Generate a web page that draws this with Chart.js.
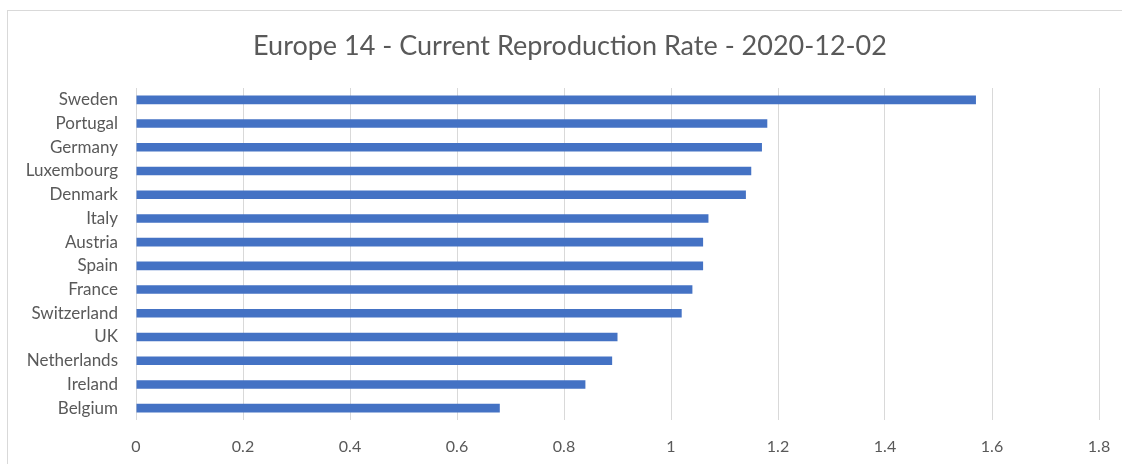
<!DOCTYPE html>
<html>
<head>
<meta charset="utf-8">
<script src="https://cdn.jsdelivr.net/npm/chart.js@4"></script>
<style>
  html, body { margin: 0; padding: 0; background: #fff; }
  #wrap { position: relative; width: 1122px; height: 464px; overflow: hidden; }
  #frame { position: absolute; left: 7px; top: 10px; width: 1200px; height: 500px; border: 1px solid #d9d9d9; }
  canvas { position: absolute; left: 0; top: 0; }
</style>
</head>
<body>
<div id="wrap">
  <div id="frame"></div>
  <canvas id="rtChart" width="1122" height="464"></canvas>
</div>
<script>
// Dữ liệu
const titleText = 'Europe 14 - Current Reproduction Rate - 2020-12-02';
const countries = ['Sweden', 'Portugal', 'Germany', 'Luxembourg', 'Denmark', 'Italy', 'Austria',
    'Spain', 'France', 'Switzerland', 'UK', 'Netherlands', 'Ireland', 'Belgium'];
const rates = [1.57, 1.18, 1.17, 1.15, 1.14, 1.07, 1.06, 1.06, 1.04, 1.02, 0.90, 0.89, 0.84, 0.68];
const xMin = 0;
const xMax = 1.8;
const xStep = 0.2;

const textColor = '#595959';
const fontFamily = 'Lato, "Open Sans", sans-serif';

// Tiêu đề: Excel đặt hơi lệch phải so với canvas nên vẽ tay
const titlePlugin = {
    id: 'excelTitle',
    afterDraw(chart) {
        const c = chart.ctx;
        c.save();
        c.font = '27px ' + fontFamily;
        c.fillStyle = textColor;
        c.textAlign = 'center';
        c.textBaseline = 'middle';
        c.fillText(titleText, 570, 46);
        c.restore();
    }
};

const ctx = document.getElementById('rtChart').getContext('2d');

new Chart(ctx, {
    type: 'bar',
    data: {
        labels: countries,
        datasets: [{
            label: 'Reproduction Rate',
            data: rates,
            backgroundColor: '#4472C4',
            borderWidth: 0,
            categoryPercentage: 1,
            barPercentage: 0.36
        }]
    },
    plugins: [titlePlugin],
    options: {
        indexAxis: 'y',
        responsive: false,
        animation: false,
        layout: {
            padding: { top: 88, right: 23, bottom: 10, left: 0 }
        },
        plugins: {
            legend: { display: false },
            tooltip: { enabled: false },
            title: { display: false }
        },
        scales: {
            x: {
                min: xMin,
                max: xMax,
                grid: { color: '#d9d9d9', drawTicks: false },
                border: { display: false },
                ticks: {
                    stepSize: xStep,
                    color: textColor,
                    padding: 17,
                    font: { family: fontFamily, size: 16 },
                    callback: v => Math.round(v * 10) / 10
                },
                afterFit: scale => {
                    scale.height = 34;
                    scale.paddingRight = 0;
                }
            },
            y: {
                grid: { display: false, drawTicks: false },
                border: { display: false },
                ticks: {
                    autoSkip: false,
                    color: textColor,
                    padding: 18,
                    font: { family: fontFamily, size: 17 }
                },
                afterFit: scale => { scale.width = 136; }
            }
        }
    }
});
</script>
</body>
</html>
